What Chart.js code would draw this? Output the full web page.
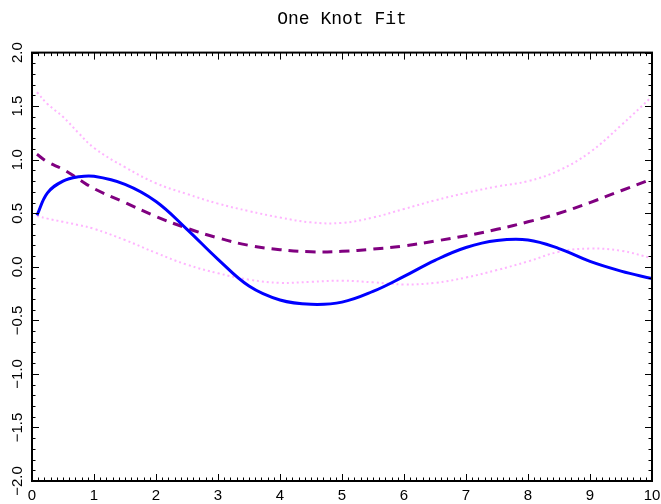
<!DOCTYPE html>
<html><head><meta charset="utf-8">
<script src="https://cdn.jsdelivr.net/npm/chart.js@4/dist/chart.umd.min.js"></script>
<style>html,body{margin:0;padding:0;background:#fff}</style>
</head><body>
<canvas id="c" width="661" height="504"></canvas>
<script>
const xValues    = [0.08, 0.25, 0.5, 0.75, 1.0, 1.5, 2.0, 2.5, 3.0, 3.5, 4.0, 4.5, 5.0, 5.5, 6.0, 6.5, 7.0, 7.5, 8.0, 8.5, 9.0, 9.5, 10.0];
const trueCurve  = [0.48, 0.69, 0.80, 0.84, 0.845, 0.77, 0.61, 0.35, 0.07, -0.18, -0.31, -0.35, -0.33, -0.23, -0.09, 0.06, 0.18, 0.245, 0.25, 0.17, 0.05, -0.04, -0.11];
const fitCurve   = [1.05, 0.98, 0.91, 0.82, 0.73, 0.60, 0.47, 0.36, 0.27, 0.20, 0.16, 0.14, 0.145, 0.165, 0.195, 0.24, 0.29, 0.35, 0.42, 0.50, 0.60, 0.71, 0.82];
const upperBand  = [1.63, 1.52, 1.40, 1.25, 1.11, 0.93, 0.78, 0.68, 0.59, 0.52, 0.46, 0.415, 0.41, 0.46, 0.54, 0.62, 0.69, 0.75, 0.80, 0.90, 1.07, 1.32, 1.59];
const lowerBand  = [0.475, 0.45, 0.42, 0.39, 0.355, 0.25, 0.13, 0.02, -0.06, -0.12, -0.15, -0.14, -0.13, -0.145, -0.165, -0.15, -0.10, -0.03, 0.05, 0.14, 0.17, 0.15, 0.08];
const xTickValues = [0,1,2,3,4,5,6,7,8,9,10];
const xTickLabels = ['0','1','2','3','4','5','6','7','8','9','10'];
const yTickValues = [-2,-1.5,-1,-0.5,0,0.5,1,1.5,2];
const yTickLabels = ['\u22122.0','\u22121.5','\u22121.0','\u22120.5','0.0','0.5','1.0','1.5','2.0'];
const titleText = 'One Knot Fit';

const pts = arr => xValues.map((x,i) => ({x, y: arr[i]}));

const frameTicks = {
  id: 'frameTicks',
  afterDraw(chart) {
    const {ctx, chartArea: a, scales: {x, y}} = chart;
    ctx.save();
    ctx.strokeStyle = '#000';
    ctx.lineWidth = 1;
    ctx.beginPath();
    for (let i = 0; i <= 100; i++) {
      const px = Math.round(x.getPixelForValue(i / 10)) + 0.5;
      const len = (i % 10 === 0) ? 7 : 3.5;
      ctx.moveTo(px, a.bottom); ctx.lineTo(px, a.bottom - len);
      ctx.moveTo(px, a.top); ctx.lineTo(px, a.top + len);
    }
    for (let i = -20; i <= 20; i++) {
      const py = Math.round(y.getPixelForValue(i / 10)) + 0.5;
      const len = (i % 5 === 0) ? 7 : 3.5;
      ctx.moveTo(a.left, py); ctx.lineTo(a.left + len, py);
      ctx.moveTo(a.right, py); ctx.lineTo(a.right - len, py);
    }
    ctx.stroke();
    ctx.lineWidth = 2;
    ctx.strokeRect(a.left, a.top, a.right - a.left, a.bottom - a.top);
    ctx.fillStyle = '#000';
    ctx.font = '15px "Liberation Sans", Arial, sans-serif';
    ctx.textAlign = 'center';
    ctx.textBaseline = 'middle';
    y.ticks.forEach(t => {
      const idx = yTickValues.indexOf(t.value);
      if (idx < 0) return;
      const py = y.getPixelForValue(t.value);
      ctx.save();
      ctx.translate(18, py);
      ctx.rotate(-Math.PI / 2);
      ctx.fillText(yTickLabels[idx], 0, 0);
      ctx.restore();
    });
    ctx.restore();
  }
};

new Chart(document.getElementById('c'), {
  type: 'line',
  data: {
    datasets: [
      {data: pts(trueCurve), borderColor: '#0000ff', borderWidth: 3},
      {data: pts(fitCurve), borderColor: '#800080', borderWidth: 3, borderDash: [10, 7]},
      {data: pts(upperBand), borderColor: '#ffb4ff', borderWidth: 2, borderDash: [2, 3]},
      {data: pts(lowerBand), borderColor: '#ffb4ff', borderWidth: 2, borderDash: [2, 3]}
    ]
  },
  options: {
    responsive: false,
    animation: false,
    devicePixelRatio: 1,
    layout: {padding: {left: 32, right: 9, top: 0, bottom: 0}},
    elements: {point: {radius: 0}, line: {fill: false, tension: 0.4}},
    plugins: {
      legend: {display: false},
      tooltip: {enabled: false},
      title: {
        display: true, text: titleText, color: '#000',
        font: {family: '"Liberation Mono", monospace', size: 18, weight: 'normal', lineHeight: 1.2},
        padding: {top: 8, bottom: 23}
      }
    },
    scales: {
      x: {
        type: 'linear', position: 'bottom', min: 0, max: 10,
        grid: {display: false, drawTicks: false},
        border: {display: false},
        afterBuildTicks: s => { s.ticks = xTickValues.map(v => ({value: v})); },
        ticks: {
          color: '#000', padding: 6, maxRotation: 0, minRotation: 0, autoSkip: false,
          font: {family: '"Liberation Sans", Arial, sans-serif', size: 15},
          callback: v => { const i = xTickValues.indexOf(v); return i < 0 ? '' : xTickLabels[i]; }
        },
        afterFit: s => { s.height = 23; s.paddingLeft = 0; s.paddingRight = 0; }
      },
      y: {
        type: 'linear', position: 'left', min: -2, max: 2,
        grid: {display: false, drawTicks: false},
        border: {display: false},
        afterBuildTicks: s => { s.ticks = yTickValues.map(v => ({value: v})); },
        ticks: {display: false},
        afterFit: s => { s.width = 0; s.paddingTop = 0; s.paddingBottom = 0; }
      }
    }
  },
  plugins: [frameTicks]
});
</script>
</body></html>
